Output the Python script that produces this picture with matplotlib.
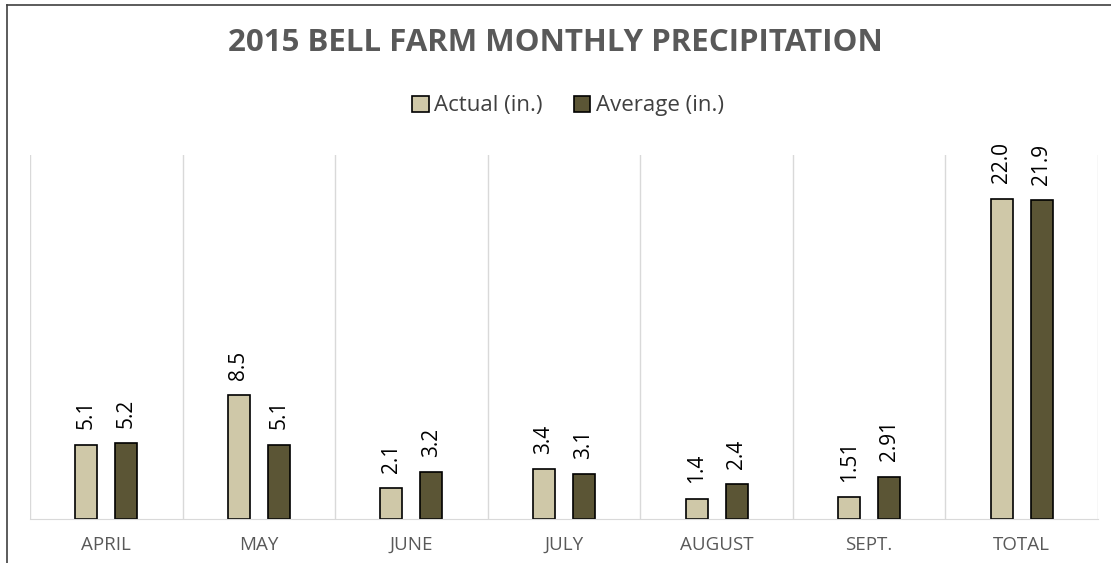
import matplotlib.pyplot as plt
import numpy as np

months = ['APRIL', 'MAY', 'JUNE', 'JULY', 'AUGUST', 'SEPT.', 'TOTAL']
actual = [5.1, 8.5, 2.1, 3.4, 1.4, 1.51, 22.0]
average = [5.2, 5.1, 3.2, 3.1, 2.4, 2.91, 21.9]
actual_lbl = ['5.1', '8.5', '2.1', '3.4', '1.4', '1.51', '22.0']
average_lbl = ['5.2', '5.1', '3.2', '3.1', '2.4', '2.91', '21.9']

plt.rcParams['font.family'] = ['Open Sans', 'DejaVu Sans']

fig = plt.figure(figsize=(11.11, 5.63), dpi=100)
ax = fig.add_axes([30/1111, 1 - 519/563, 1068/1111, 364/563])

x = np.arange(len(months))
w = 0.144
off = 0.131
b1 = ax.bar(x - off, actual, w, color='#CFC8A8', edgecolor='black', linewidth=1.2, label='Actual (in.)')
b2 = ax.bar(x + off, average, w, color='#5B5535', edgecolor='black', linewidth=1.2, label='Average (in.)')

for bars, labels in [(b1, actual_lbl), (b2, average_lbl)]:
    for b, t in zip(bars, labels):
        ax.annotate(t, (b.get_x() + b.get_width() / 2, b.get_height()),
                    xytext=(0, 11), textcoords='offset points', rotation=90,
                    ha='center', va='bottom', fontsize=15, color='black')

ax.set_xlim(-0.5, len(months) - 0.5)
ax.set_ylim(0, 25)
ax.set_xticks(x)
ax.set_xticklabels(months, fontsize=13.5, color='#595959')
ax.tick_params(axis='x', length=0, pad=12)
ax.set_yticks([])
for b in np.arange(-0.5, len(months), 1):
    ax.axvline(b, color='#D9D9D9', linewidth=1, zorder=0)
for s in ['top', 'right', 'left']:
    ax.spines[s].set_visible(False)
ax.spines['bottom'].set_color('#D9D9D9')

fig.text(0.5, 1 - 43/563, '2015 BELL FARM MONTHLY PRECIPITATION', ha='center', va='center',
         fontsize=22.5, fontweight='bold', color='#595959')
fig.legend(handles=[b1, b2], loc='center', bbox_to_anchor=(568/1111, 1 - 106/563), ncol=2,
           frameon=False, fontsize=16, handlelength=0.75, handleheight=0.75,
           handletextpad=0.25, columnspacing=1.4, labelcolor='#404040')

# outer chart frame (top and left edges visible in the crop)
fig.add_artist(plt.Line2D([7/1111, 1], [1 - 5/563, 1 - 5/563], color='#404040', linewidth=1.2))
fig.add_artist(plt.Line2D([7/1111, 7/1111], [0, 1 - 5/563], color='#404040', linewidth=1.2))

fig.savefig('out.png', dpi=100)
